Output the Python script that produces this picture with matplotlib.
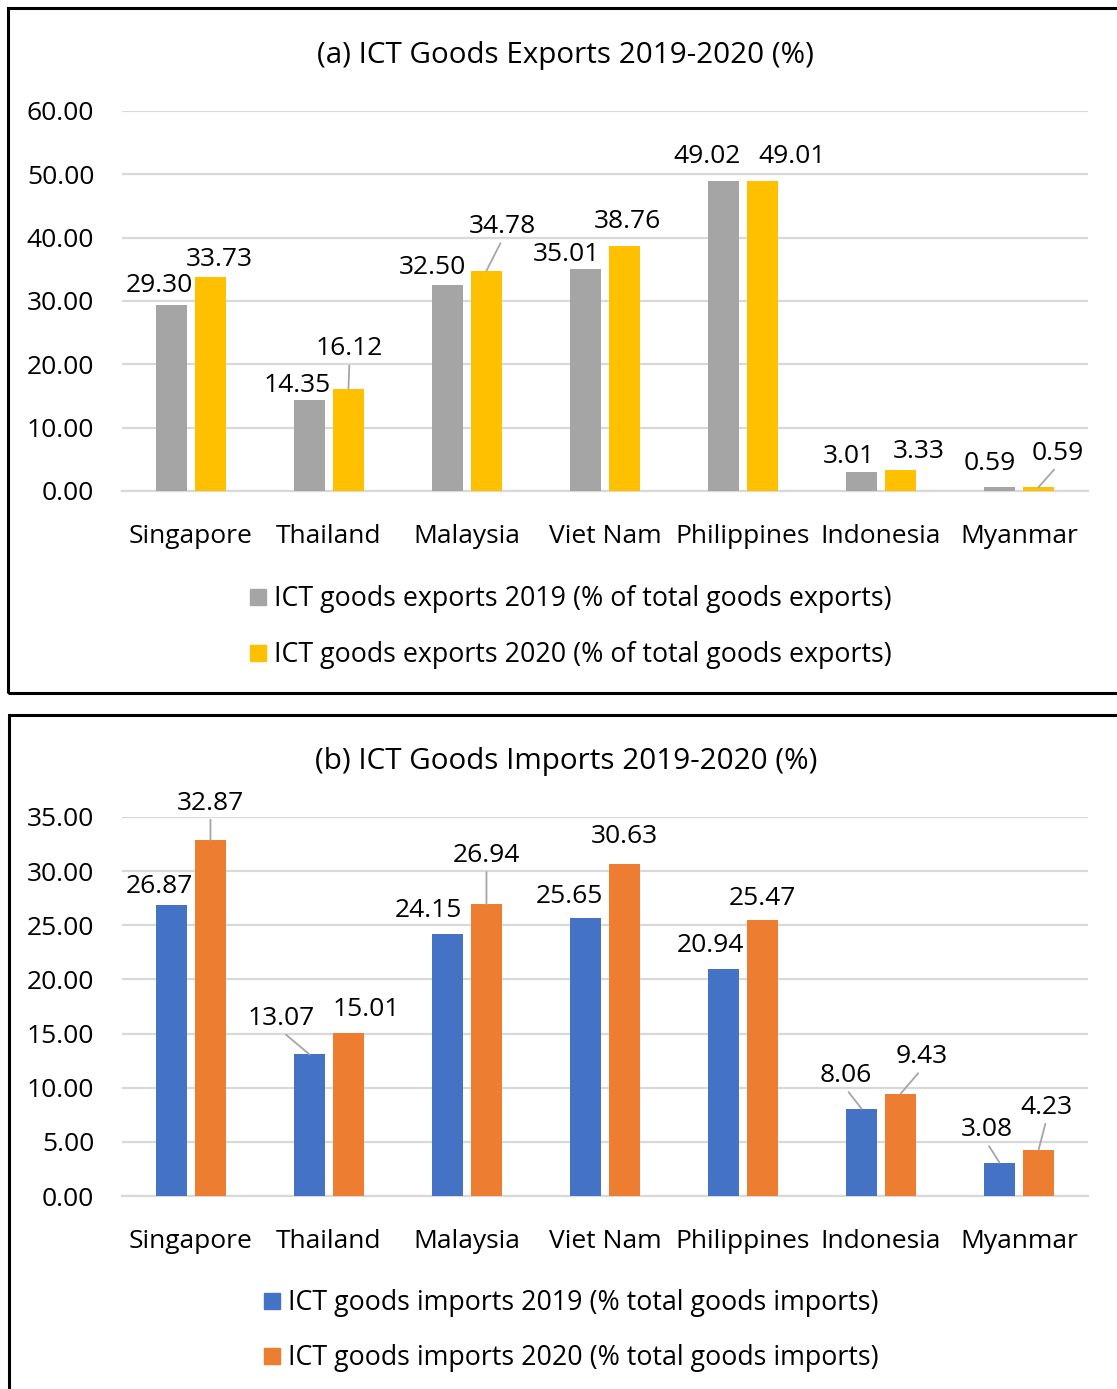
import matplotlib.pyplot as plt
from matplotlib.patches import Rectangle
import numpy as np

plt.rcParams['font.family'] = ['Open Sans', 'DejaVu Sans']

#data
countries = ['Singapore', 'Thailand', 'Malaysia', 'Viet Nam', 'Philippines', 'Indonesia', 'Myanmar']
exports_2019 = [29.30, 14.35, 32.50, 35.01, 49.02, 3.01, 0.59]
exports_2020 = [33.73, 16.12, 34.78, 38.76, 49.01, 3.33, 0.59]
imports_2019 = [26.87, 13.07, 24.15, 25.65, 20.94, 8.06, 3.08]
imports_2020 = [32.87, 15.01, 26.94, 30.63, 25.47, 9.43, 4.23]

#label offsets (pixels from bar top centre) and whether a leader line is drawn
exp19_off = [(-12, 20), (-12, 15), (-15, 18), (-19, 15), (-16, 24), (-13, 15), (-10, 24)]
exp20_off = [(9, 18), (1, 40), (16, 44), (3, 24), (30, 24), (18, 18), (19, 34)]
exp19_lead = [0, 0, 0, 0, 0, 0, 0]
exp20_lead = [0, 1, 1, 0, 0, 0, 1]
imp19_off = [(-12, 19), (-28, 36), (-19, 24), (-16, 22), (-13, 24), (-16, 33), (-13, 33)]
imp20_off = [(0, 37), (18, 24), (0, 49), (0, 28), (0, 22), (21, 37), (8, 43)]
imp19_lead = [0, 1, 0, 0, 0, 1, 1]
imp20_lead = [1, 0, 1, 0, 0, 1, 1]

W, H = 1117, 1389
fig = plt.figure(figsize=(W / 100, H / 100), dpi=100)

def px_axes(left, right, top, bottom):
    return fig.add_axes([left / W, 1 - bottom / H, (right - left) / W, (bottom - top) / H])

def draw_panel(ax, v1, v2, c1, c2, ymax, ystep, off1, off2, lead1, lead2):
    x = np.arange(len(countries))
    w = 0.225
    d = 0.141
    ax.bar(x - d, v1, w, color=c1, zorder=3)
    ax.bar(x + d, v2, w, color=c2, zorder=3)
    ax.set_xlim(-0.5, len(countries) - 0.5)
    ax.set_ylim(0, ymax)
    ax.set_yticks(np.arange(0, ymax + 0.01, ystep))
    ax.set_yticklabels(['%.2f' % t for t in np.arange(0, ymax + 0.01, ystep)])
    ax.set_xticks(x)
    ax.set_xticklabels(countries)
    ax.tick_params(length=0, labelsize=19, colors='black')
    ax.tick_params(axis='y', pad=20)
    ax.tick_params(axis='x', pad=24)
    ax.grid(axis='y', color='#d9d9d9', linewidth=1.6, zorder=0)
    for s in ['top', 'right', 'left']:
        ax.spines[s].set_visible(False)
    ax.spines['bottom'].set_color('#d9d9d9')
    ax.spines['bottom'].set_linewidth(1.6)
    for vals, offs, leads, sign in [(v1, off1, lead1, -1), (v2, off2, lead2, 1)]:
        for i, v in enumerate(vals):
            dx, dy = offs[i]
            kw = {}
            if leads[i]:
                kw['arrowprops'] = dict(arrowstyle='-', color='#a6a6a6', lw=1.3,
                                        shrinkA=1, shrinkB=0, relpos=(0.5, 0))
            ax.annotate('%.2f' % v, xy=(i + sign * d, v), xytext=(dx, dy),
                        textcoords='offset pixels', ha='center', va='center',
                        fontsize=19, color='black', zorder=5, **kw)

ax1 = px_axes(122, 1088, 111, 491)
draw_panel(ax1, exports_2019, exports_2020, '#a5a5a5', '#ffc000', 60, 10,
           exp19_off, exp20_off, exp19_lead, exp20_lead)
ax2 = px_axes(122, 1088, 817, 1196)
draw_panel(ax2, imports_2019, imports_2020, '#4472c4', '#ed7d31', 35, 5,
           imp19_off, imp20_off, imp19_lead, imp20_lead)

fig.text(565 / W, 1 - 55 / H, '(a) ICT Goods Exports 2019-2020 (%)', ha='center', va='center', fontsize=21.3)
fig.text(566 / W, 1 - 762 / H, '(b) ICT Goods Imports 2019-2020 (%)', ha='center', va='center', fontsize=21.3)

#legends drawn as square markers + text
legend_items = [
    (250, 597, '#a5a5a5', 'ICT goods exports 2019 (% of total goods exports)'),
    (250, 653, '#ffc000', 'ICT goods exports 2020 (% of total goods exports)'),
    (264, 1301, '#4472c4', 'ICT goods imports 2019 (% total goods imports)'),
    (264, 1356, '#ed7d31', 'ICT goods imports 2020 (% total goods imports)'),
]
for lx, ly, col, txt in legend_items:
    fig.patches.append(Rectangle((lx / W, 1 - (ly + 8) / H), 16 / W, 16 / H,
                                 transform=fig.transFigure, color=col))
    fig.text((lx + 24) / W, 1 - (ly + 2) / H, txt, ha='left', va='center', fontsize=19.3)

#panel frames
fig.patches.append(Rectangle((8 / W, 1 - 693 / H), 1.2, (693 - 8) / H, transform=fig.transFigure,
                             fill=False, edgecolor='black', linewidth=2.2))
fig.patches.append(Rectangle((9 / W, -0.2), 1.2, 0.2 + (H - 715) / H, transform=fig.transFigure,
                             fill=False, edgecolor='black', linewidth=2.2))

fig.savefig('out.png', dpi=100)
